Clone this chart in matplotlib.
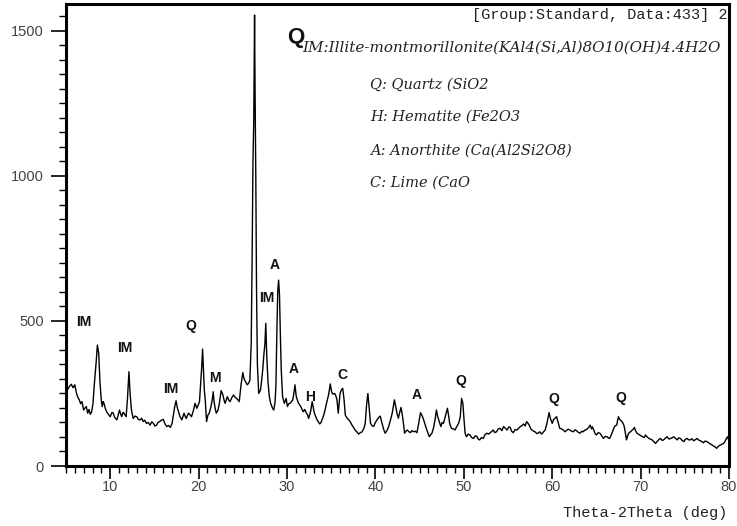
import matplotlib
matplotlib.use("Agg")
import matplotlib.pyplot as plt
from matplotlib.ticker import MultipleLocator

# ---- data ----
two_theta = [5.0, 5.2, 5.4, 5.6, 5.8, 6.0, 6.15, 6.3, 6.5, 6.65, 6.8, 7.0, 7.15, 7.3, 7.45, 7.6, 7.75, 7.9,
             8.05, 8.2, 8.4, 8.55, 8.7, 8.85, 9.0, 9.1, 9.2, 9.3, 9.45, 9.6, 9.8, 10.0, 10.2, 10.35, 10.5,
             10.75, 10.9, 11.05, 11.2, 11.3, 11.45, 11.55, 11.7, 11.8, 11.95, 12.05, 12.12, 12.25, 12.4,
             12.5, 12.6, 12.8, 13.0, 13.2, 13.4, 13.55, 13.75, 13.9, 14.1, 14.3, 14.5, 14.7, 14.9, 15.05,
             15.25, 15.4, 15.6, 15.8, 16.0, 16.2, 16.4, 16.6, 16.8, 17.0, 17.15, 17.3, 17.45, 17.6, 17.75,
             17.9, 18.1, 18.25, 18.35, 18.5, 18.6, 18.75, 18.85, 19.0, 19.2, 19.4, 19.6, 19.8, 19.95, 20.1,
             20.25, 20.35, 20.45, 20.55, 20.65, 20.75, 20.9, 21.05, 21.2, 21.4, 21.55, 21.65, 21.75, 21.9,
             22.0, 22.2, 22.35, 22.55, 22.75, 22.9, 23.0, 23.15, 23.25, 23.4, 23.55, 23.75, 23.95, 24.1,
             24.3, 24.45, 24.6, 24.8, 25.0, 25.15, 25.3, 25.5, 25.65, 25.8, 25.95, 26.05, 26.15, 26.24,
             26.33, 26.4, 26.47, 26.55, 26.65, 26.8, 27.0, 27.15, 27.25, 27.4, 27.5, 27.6, 27.7, 27.85,
             28.0, 28.15, 28.35, 28.5, 28.65, 28.75, 28.85, 28.95, 29.05, 29.15, 29.25, 29.35, 29.5, 29.7,
             29.9, 30.05, 30.2, 30.35, 30.5, 30.65, 30.8, 30.9, 31.05, 31.2, 31.3, 31.45, 31.55, 31.7,
             31.85, 32.0, 32.2, 32.35, 32.45, 32.6, 32.7, 32.85, 32.95, 33.1, 33.25, 33.4, 33.55, 33.7,
             33.85, 33.95, 34.15, 34.3, 34.5, 34.7, 34.9, 35.05, 35.2, 35.4, 35.55, 35.65, 35.8, 35.9,
             36.0, 36.15, 36.3, 36.45, 36.6, 36.8, 37.0, 37.2, 37.35, 37.55, 37.7, 37.9, 38.1, 38.3, 38.5,
             38.7, 38.85, 39.0, 39.15, 39.3, 39.45, 39.6, 39.8, 40.0, 40.2, 40.4, 40.55, 40.75, 40.95,
             41.1, 41.3, 41.5, 41.7, 41.9, 42.05, 42.15, 42.3, 42.45, 42.6, 42.75, 42.9, 43.05, 43.2, 43.3,
             43.45, 43.6, 43.8, 43.95, 44.15, 44.3, 44.5, 44.7, 44.9, 45.1, 45.25, 45.4, 45.6, 45.75, 45.9,
             46.1, 46.25, 46.4, 46.6, 46.75, 46.9, 47.05, 47.2, 47.4, 47.55, 47.7, 47.85, 48.0, 48.15, 48.3,
             48.4, 48.6, 48.8, 49.0, 49.15, 49.3, 49.45, 49.6, 49.75, 49.9, 50.0, 50.15, 50.3, 50.5, 50.7,
             50.9, 51.1, 51.3, 51.5, 51.65, 51.8, 52.0, 52.2, 52.4, 52.6, 52.8, 53.0, 53.2, 53.35, 53.5,
             53.7, 53.9, 54.1, 54.3, 54.5, 54.7, 54.9, 55.1, 55.25, 55.4, 55.6, 55.8, 56.0, 56.2, 56.4,
             56.6, 56.75, 56.95, 57.1, 57.25, 57.4, 57.55, 57.7, 57.9, 58.05, 58.25, 58.4, 58.6, 58.8,
             59.0, 59.2, 59.4, 59.55, 59.65, 59.8, 60.0, 60.15, 60.3, 60.5, 60.6, 60.7, 60.85, 61.05,
             61.25, 61.45, 61.6, 61.8, 62.0, 62.2, 62.4, 62.6, 62.75, 62.95, 63.15, 63.35, 63.5, 63.7,
             63.9, 64.1, 64.3, 64.45, 64.55, 64.7, 64.85, 65.0, 65.2, 65.4, 65.6, 65.8, 66.0, 66.2, 66.35,
             66.5, 66.65, 66.75, 66.9, 67.05, 67.2, 67.3, 67.4, 67.5, 67.6, 67.7, 67.9, 68.05, 68.15, 68.3,
             68.4, 68.55, 68.65, 68.85, 69.05, 69.2, 69.3, 69.45, 69.6, 69.75, 69.9, 70.05, 70.2, 70.4,
             70.55, 70.75, 70.95, 71.15, 71.3, 71.5, 71.7, 71.85, 71.95, 72.1, 72.25, 72.45, 72.6, 72.8,
             73.0, 73.2, 73.4, 73.6, 73.75, 73.95, 74.15, 74.3, 74.5, 74.7, 74.9, 75.05, 75.25, 75.45,
             75.6, 75.8, 76.0, 76.2, 76.4, 76.6, 76.75, 76.95, 77.1, 77.3, 77.5, 77.7, 77.9, 78.1, 78.25,
             78.45, 78.6, 78.8, 79.0, 79.2, 79.4, 79.55, 79.7, 79.85, 80.0]

intensity = [245, 265, 275, 282, 270, 280, 255, 240, 228, 215, 222, 193, 200, 205, 182, 195, 178, 187,
             215, 280, 354, 417, 388, 285, 225, 205, 222, 216, 198, 187, 178, 170, 185, 182, 168,
             159, 175, 193, 178, 170, 185, 182, 175, 170, 230, 290, 325, 250, 195,
             178, 164, 172, 170, 160, 159, 165, 153, 158, 147, 150, 141, 152, 147, 138,
             141, 150, 153, 158, 161, 145, 136, 140, 133, 147, 175, 205, 225, 200, 185,
             170, 159, 172, 182, 170, 164, 175, 182, 178, 170, 190, 216, 199, 210, 222,
             290, 340, 403, 330, 260, 228, 153, 175, 182, 205, 230, 256, 222, 195,
             182, 193, 216, 260, 245, 225, 216, 230, 239, 228, 222, 235, 245, 238,
             233, 228, 222, 280, 322, 300, 291, 280, 285, 296, 420, 700, 1050, 1190,
             1555, 1250, 1000, 620, 350, 250, 262, 300, 331, 390, 420, 492, 388, 290,
             240, 216, 200, 193, 220, 280, 457, 600, 641, 590, 450, 331, 239, 216,
             233, 205, 215, 216, 222, 228, 255, 280, 239, 225, 216, 210, 205, 195,
             187, 195, 182, 175, 164, 180, 193, 222, 205, 182, 170, 159, 152, 145,
             150, 159, 175, 193, 220, 245, 283, 255, 248, 250, 240, 228, 182, 215,
             250, 262, 268, 230, 175, 165, 159, 150, 141, 132, 124, 118, 110, 115, 118,
             130, 147, 210, 250, 200, 147, 140, 136, 150, 160, 168, 172, 147, 125,
             113, 122, 136, 158, 182, 210, 228, 205, 180, 165, 185, 202, 175, 140, 113,
             120, 124, 118, 115, 122, 118, 120, 115, 147, 184, 175, 165, 145, 130, 118,
             101, 108, 113, 135, 160, 193, 170, 155, 136, 150, 147, 165, 182, 199, 170,
             147, 130, 128, 124, 133, 141, 150, 170, 233, 216, 170, 113, 101, 110, 107,
             98, 95, 104, 101, 92, 90, 98, 95, 108, 113, 110, 115, 120, 124, 115,
             118, 128, 130, 122, 136, 130, 124, 135, 133, 120, 115, 126, 124, 130, 136,
             140, 145, 138, 153, 148, 141, 130, 124, 120, 118, 112, 113, 118, 110,
             117, 124, 147, 170, 184, 164, 147, 160, 164, 170, 158, 147, 130, 128,
             124, 118, 122, 127, 124, 120, 118, 125, 122, 116, 113, 120, 118, 124,
             126, 132, 141, 128, 135, 124, 112, 107, 115, 113, 104, 95, 102, 101, 97,
             95, 105, 113, 125, 136, 140, 141, 158, 170, 162, 159, 153, 145, 136, 110,
             90, 105, 113, 118, 124, 128, 133, 120, 113, 110, 107, 104, 101, 98,
             107, 100, 95, 92, 90, 84, 78, 84, 87, 92, 95, 88, 90, 96,
             101, 93, 95, 98, 101, 95, 90, 97, 95, 88, 84, 92, 95, 90,
             90, 94, 87, 91, 95, 89, 87, 84, 80, 86, 84, 80, 76, 72, 69,
             65, 61, 68, 72, 75, 78, 85, 95, 101, 84]

x_ticks = [10, 20, 30, 40, 50, 60, 70, 80]
y_ticks = [0, 500, 1000, 1500]

peak_labels = ["IM", "IM", "IM", "Q", "M", "IM", "A", "A", "H", "C", "A", "Q", "Q", "Q"]
peak_label_x = [7.0, 11.6, 16.9, 19.15, 21.8, 27.75, 28.65, 30.8, 32.6, 36.3, 44.7, 49.7, 60.2, 67.8]
peak_label_y = [497, 408, 265, 483, 303, 579, 693, 334, 238, 314, 245, 293, 231, 234]

legend_lines = ["IM:Illite-montmorillonite(KAl4(Si,Al)8O10(OH)4.4H2O",
                "Q: Quartz (SiO2",
                "H: Hematite (Fe2O3",
                "A: Anorthite (Ca(Al2Si2O8)",
                "C: Lime (CaO"]
header_text = "[Group:Standard, Data:433] 2"
x_label = "Theta-2Theta (deg)"

# ---- figure ----
fig = plt.figure(figsize=(7.37, 5.26), dpi=100)
W, H = 737, 526
ax = fig.add_axes([66 / W, (H - 466) / H, (729 - 66) / W, (466 - 4) / H])

ax.plot(two_theta, intensity, color="black", lw=1.0)
ax.set_xlim(5, 80)
ax.set_ylim(0, 1593)

ax.set_xticks(x_ticks)
ax.set_yticks(y_ticks)
ax.xaxis.set_minor_locator(MultipleLocator(1))
ax.yaxis.set_minor_locator(MultipleLocator(50))
ax.tick_params(axis="both", which="major", direction="out", length=9, width=1.2,
               labelsize=10.5, labelcolor="#444444", color="black")
ax.tick_params(axis="both", which="minor", direction="out", length=5, width=1.0, color="black")
ax.tick_params(axis="x", which="major", pad=1)
ax.tick_params(axis="y", which="major", length=11, pad=5)
for lab in ax.get_xticklabels() + ax.get_yticklabels():
    lab.set_fontfamily("Liberation Sans")
for sp in ax.spines.values():
    sp.set_linewidth(2.2)

for s, px, py in zip(peak_labels, peak_label_x, peak_label_y):
    ax.text(px, py, s, ha="center", va="center", fontsize=10, fontweight="bold",
            family="Liberation Sans", color="#111111")

# large Q near the top
ax.text(31.0, 1476, "Q", ha="center", va="center", fontsize=16, fontweight="bold",
        family="Liberation Sans", color="#111111")

# header and legend texts (figure pixel coordinates)
fig.text(727 / W, 1 - 15 / H, header_text, ha="right", va="center",
         family="Liberation Mono", fontsize=11, color="#222222")
fig.text(302 / W, 1 - 48 / H, legend_lines[0], ha="left", va="center",
         family="DejaVu Serif", style="italic", fontsize=10.9, color="#222222")
for line, yy in zip(legend_lines[1:], [85, 117, 151, 183]):
    fig.text(370 / W, 1 - yy / H, line, ha="left", va="center",
             family="DejaVu Serif", style="italic", fontsize=10.5, color="#222222")

fig.text(727 / W, 1 - 513 / H, x_label, ha="right", va="center",
         family="Liberation Mono", fontsize=11, color="#222222")

fig.savefig("out.png", dpi=100)
